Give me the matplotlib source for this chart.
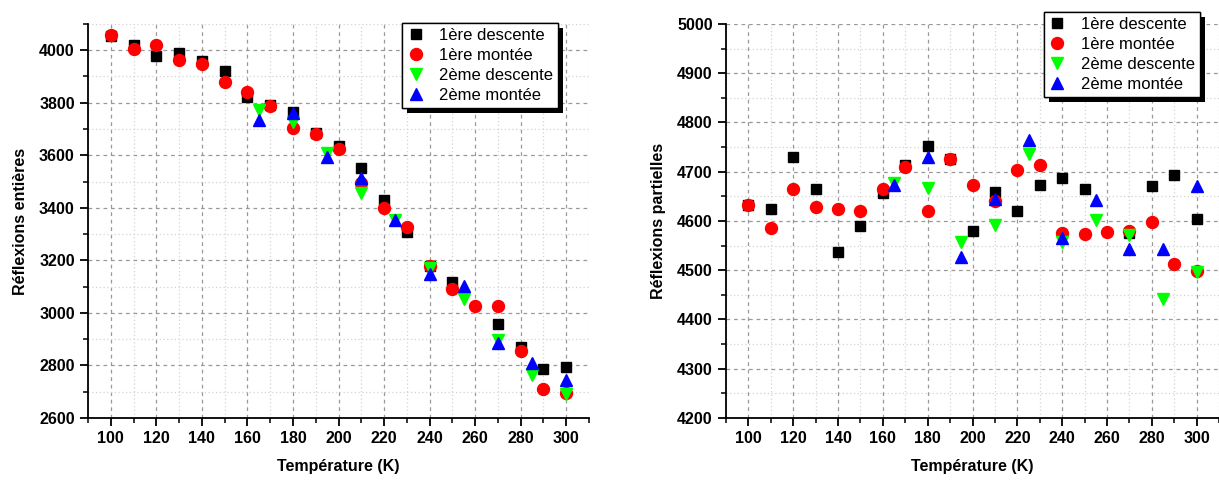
import matplotlib
matplotlib.use("Agg")
import matplotlib.pyplot as plt
from matplotlib.ticker import MultipleLocator
from matplotlib.patches import Rectangle

plt.rcParams['font.family'] = ['Liberation Sans', 'DejaVu Sans']

# ---- données : réflexions entières ----
t_desc1 = [100, 110, 120, 130, 140, 150, 160, 170, 180, 190, 200, 210, 220, 230, 240, 250, 270, 280, 290, 300]
ent_desc1 = [4056, 4020, 3978, 3988, 3960, 3922, 3821, 3791, 3764, 3686, 3636, 3550, 3430, 3309, 3180, 3116, 2956, 2870, 2786, 2794]
t_mont1 = [100, 110, 120, 130, 140, 150, 160, 170, 180, 190, 200, 210, 220, 230, 240, 250, 260, 270, 280, 290, 300]
ent_mont1 = [4059, 4005, 4021, 3963, 3948, 3880, 3842, 3788, 3705, 3680, 3623, 3495, 3398, 3328, 3178, 3090, 3026, 3026, 2855, 2710, 2695]
t_2 = [165, 180, 195, 210, 225, 240, 255, 270, 285, 300]
ent_desc2 = [3772, 3728, 3610, 3455, 3353, 3171, 3052, 2896, 2763, 2693]
ent_mont2 = [3734, 3762, 3592, 3512, 3353, 3148, 3102, 2886, 2811, 2744]

# ---- données : réflexions partielles ----
part_desc1 = [4633, 4625, 4729, 4665, 4537, 4589, 4656, 4714, 4753, 4726, 4580, 4658, 4620, 4673, 4688, 4665, 4575, 4670, 4693, 4604]
part_mont1 = [4633, 4586, 4665, 4628, 4624, 4620, 4665, 4709, 4621, 4726, 4674, 4641, 4703, 4714, 4576, 4573, 4577, 4579, 4597, 4512, 4499]
part_desc2 = [4678, 4667, 4558, 4592, 4735, 4558, 4602, 4571, 4441, 4497]
part_mont2 = [4673, 4730, 4527, 4644, 4764, 4565, 4642, 4543, 4544, 4672]

labels = ['1ère descente', '1ère montée', '2ème descente', '2ème montée']

fig = plt.figure(figsize=(12.19, 4.82), dpi=100)
ax1 = fig.add_axes([0.0722, 0.1328, 0.4110, 0.8175])
ax2 = fig.add_axes([0.5956, 0.1328, 0.4044, 0.8175])


def draw(ax, y1, y2, y3, y4, ylim, ymaj, ylabel, leg_anchor):
    ax.plot(t_desc1, y1, ls='none', marker='s', ms=7.6, color='black', label=labels[0], zorder=3)
    ax.plot(t_mont1, y2, ls='none', marker='o', ms=8.6, color='red', label=labels[1], zorder=3)
    ax.plot(t_2, y3, ls='none', marker='v', ms=9.2, color='#00ff00', label=labels[2], zorder=3)
    ax.plot(t_2, y4, ls='none', marker='^', ms=9.2, color='blue', label=labels[3], zorder=3)
    ax.set_xlim(90, 310)
    ax.set_ylim(*ylim)
    ax.xaxis.set_major_locator(MultipleLocator(20))
    ax.xaxis.set_minor_locator(MultipleLocator(10))
    ax.yaxis.set_major_locator(MultipleLocator(ymaj))
    ax.yaxis.set_minor_locator(MultipleLocator(ymaj / 2))
    ax.grid(which='major', ls=(0, (3, 3)), color='#999999', lw=0.9)
    ax.grid(which='minor', ls=(0, (1, 2)), color='#d4d4d4', lw=0.9)
    ax.set_axisbelow(True)
    for s in ['top', 'right']:
        ax.spines[s].set_visible(False)
    for s in ['left', 'bottom']:
        ax.spines[s].set_linewidth(1.3)
    ax.tick_params(which='major', direction='out', length=6, width=1.3, labelsize=11.5)
    ax.tick_params(which='minor', direction='out', length=3.5, width=1.1)
    for lb in ax.get_xticklabels() + ax.get_yticklabels():
        lb.set_fontweight('bold')
    ax.set_xlabel('Température (K)', fontsize=11.5, fontweight='bold', labelpad=9)
    ax.set_ylabel(ylabel, fontsize=11.5, fontweight='bold', labelpad=8)
    leg = ax.legend(loc='upper right', bbox_to_anchor=leg_anchor, fontsize=12,
                    frameon=True, fancybox=False, edgecolor='black', framealpha=1,
                    handlelength=1.0, handletextpad=0.9, labelspacing=0.3,
                    borderpad=0.3, borderaxespad=0)
    leg.get_frame().set_linewidth(1.0)
    leg.set_zorder(10)
    return leg


leg1 = draw(ax1, ent_desc1, ent_mont1, ent_desc2, ent_mont2, (2600, 4100), 200,
            'Réflexions entières', (0.938, 1.003))
leg2 = draw(ax2, part_desc1, part_mont1, part_desc2, part_mont2, (4200, 5000), 100,
            'Réflexions partielles', (0.961, 1.03))

# ombre noire décalée sous les légendes
fig.canvas.draw()
for leg in (leg1, leg2):
    bb = leg.get_window_extent().transformed(fig.transFigure.inverted())
    dx, dy = 5 / fig.bbox.width, -5 / fig.bbox.height
    fig.add_artist(Rectangle((bb.x0 + dx, bb.y0 + dy), bb.width, bb.height,
                             transform=fig.transFigure, facecolor='black',
                             edgecolor='none', zorder=9))
    fig.add_artist(leg)

fig.savefig('out.png', dpi=100)
